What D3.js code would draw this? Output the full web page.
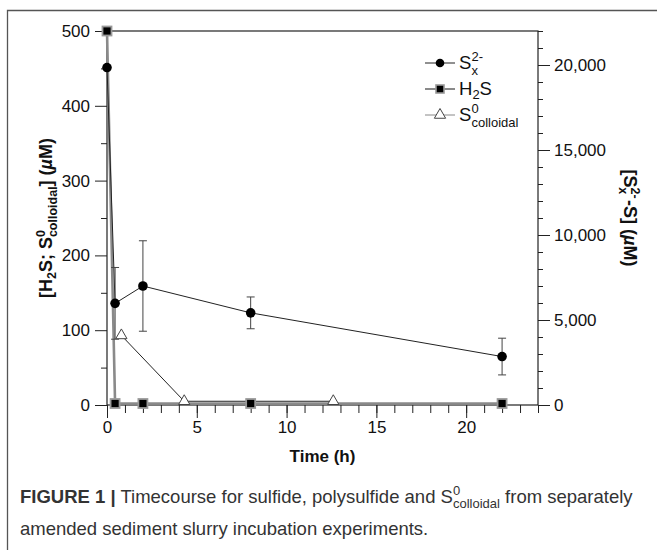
<!DOCTYPE html>
<html>
<head>
<meta charset="utf-8">
<script src="https://cdn.jsdelivr.net/npm/d3@7"></script>
<style>
  body { margin: 0; background: #fff; }
  svg { display: block; font-family: "Liberation Sans", Arial, sans-serif; }
  .tick text { font-size: 17px; fill: #111; }
</style>
</head>
<body>
<svg id="chart" width="657" height="550"></svg>
<script>
// time points (h)
const timeSx = [0, 0.45, 2, 8, 22];
const sx = [19850, 5980, 7000, 5420, 2850];      // [Sx2- -S] uM, right axis
const sxErr = [0, 2110, 2660, 935, 1080];
const timeH2S = [0, 0.45, 2, 8, 22];
const h2s = [500, 2, 2, 2, 2];                   // uM, left axis
const timeS0 = [0.8, 4.3, 12.6];
const s0 = [93, 5, 5];                           // uM, left axis

const xMajor = [0, 5, 10, 15, 20];
const yLeftMajor = [0, 100, 200, 300, 400, 500];
const yRightMajor = [0, 5000, 10000, 15000, 20000];

const svg = d3.select("#chart");
const margin = { top: 31, right: 119, bottom: 145, left: 107 };
const width = 657 - margin.left - margin.right;
const height = 550 - margin.top - margin.bottom;

// outer card border (top + left)
svg.append("path")
  .attr("d", "M7.5,550 V10.5 H657")
  .attr("fill", "none").attr("stroke", "#555").attr("stroke-width", 1.3);

const g = svg.append("g").attr("transform", `translate(${margin.left},${margin.top})`);

const x = d3.scaleLinear().domain([0, 24]).range([0, width]);
const yL = d3.scaleLinear().domain([0, 500]).range([height, 0]);
const yR = d3.scaleLinear().domain([0, 22000]).range([height, 0]);

// axes: minor then major
function styleAxis(sel) {
  sel.select(".domain").remove();
  sel.selectAll(".tick line").attr("stroke", "#222");
}
g.append("g").attr("transform", `translate(0,${height})`)
  .call(d3.axisBottom(x).tickValues(d3.range(0, 25)).tickSize(8).tickFormat(""))
  .call(styleAxis);
g.append("g").attr("transform", `translate(0,${height})`)
  .call(d3.axisBottom(x).tickValues(xMajor).tickSize(13).tickPadding(3))
  .call(styleAxis);

g.append("g")
  .call(d3.axisLeft(yL).tickValues(d3.range(50, 500, 100)).tickSize(6).tickFormat(""))
  .call(styleAxis);
g.append("g")
  .call(d3.axisLeft(yL).tickValues(yLeftMajor).tickSize(12).tickPadding(5))
  .call(styleAxis);

g.append("g").attr("transform", `translate(${width},0)`)
  .call(d3.axisRight(yR).tickValues(d3.range(0, 22001, 1000)).tickSize(5).tickFormat(""))
  .call(styleAxis);
g.append("g").attr("transform", `translate(${width},0)`)
  .call(d3.axisRight(yR).tickValues(yRightMajor).tickSize(12).tickPadding(4).tickFormat(d3.format(",")))
  .call(styleAxis);

// plot frame
g.append("rect").attr("width", width).attr("height", height)
  .attr("fill", "none").attr("stroke", "#222").attr("stroke-width", 1.2);

// lines
const lineL = d3.line().x(d => x(d[0])).y(d => yL(d[1]));
const lineR = d3.line().x(d => x(d[0])).y(d => yR(d[1]));
const h2sData = timeH2S.map((t, i) => [t, h2s[i]]);
const s0Data = timeS0.map((t, i) => [t, s0[i]]);
const sxData = timeSx.map((t, i) => [t, sx[i], sxErr[i]]);

g.append("path").datum(h2sData).attr("d", lineL)
  .attr("fill", "none").attr("stroke", "#8a8a8a").attr("stroke-width", 2.6);
g.append("path").datum(s0Data).attr("d", lineL)
  .attr("fill", "none").attr("stroke", "#222").attr("stroke-width", 1);
g.append("path").datum(sxData).attr("d", lineR)
  .attr("fill", "none").attr("stroke", "#222").attr("stroke-width", 1);

// error bars
const eb = g.selectAll(".err").data(sxData.filter(d => d[2] > 0)).enter().append("g")
  .attr("stroke", "#444").attr("stroke-width", 1);
eb.append("line")
  .attr("x1", d => x(d[0])).attr("x2", d => x(d[0]))
  .attr("y1", d => yR(d[1] - d[2])).attr("y2", d => yR(d[1] + d[2]));
eb.append("line")
  .attr("x1", d => x(d[0]) - 4).attr("x2", d => x(d[0]) + 4)
  .attr("y1", d => yR(d[1] + d[2])).attr("y2", d => yR(d[1] + d[2]));
eb.append("line")
  .attr("x1", d => x(d[0]) - 4).attr("x2", d => x(d[0]) + 4)
  .attr("y1", d => yR(d[1] - d[2])).attr("y2", d => yR(d[1] - d[2]));

// markers
const tri = d3.symbol().type(d3.symbolTriangle).size(55);
g.selectAll(".tri").data(s0Data).enter().append("path")
  .attr("d", tri)
  .attr("transform", d => `translate(${x(d[0])},${yL(d[1])})`)
  .attr("fill", "#fff").attr("stroke", "#444").attr("stroke-width", 1);

g.selectAll(".dot").data(sxData).enter().append("circle")
  .attr("cx", d => x(d[0])).attr("cy", d => yR(d[1])).attr("r", 4.8)
  .attr("fill", "#000");

g.selectAll(".sq").data(h2sData).enter().append("rect")
  .attr("x", d => x(d[0]) - 4.5).attr("y", d => yL(d[1]) - 4.5)
  .attr("width", 9).attr("height", 9)
  .attr("fill", "#000").attr("stroke", "#999").attr("stroke-width", 1.8);

// legend
const lg = svg.append("g").attr("transform", "translate(425,0)");
const rows = [63, 89, 115];
lg.append("line").attr("x1", 0).attr("x2", 30).attr("y1", rows[0]).attr("y2", rows[0]).attr("stroke", "#222");
lg.append("circle").attr("cx", 15).attr("cy", rows[0]).attr("r", 4.3).attr("fill", "#000");
lg.append("line").attr("x1", 0).attr("x2", 30).attr("y1", rows[1]).attr("y2", rows[1]).attr("stroke", "#8a8a8a").attr("stroke-width", 2);
lg.append("rect").attr("x", 11).attr("y", rows[1] - 4).attr("width", 8).attr("height", 8)
  .attr("fill", "#000").attr("stroke", "#999").attr("stroke-width", 1.6);
lg.append("line").attr("x1", 0).attr("x2", 30).attr("y1", rows[2]).attr("y2", rows[2]).attr("stroke", "#888");
lg.append("path").attr("d", tri).attr("transform", `translate(15,${rows[2]})`)
  .attr("fill", "#fff").attr("stroke", "#444");

const lt = lg.append("g").attr("font-size", 18.5).attr("fill", "#111");
lt.append("text").attr("x", 34).attr("y", rows[0] + 6).text("S");
lt.append("text").attr("x", 46.5).attr("y", rows[0] - 2).attr("font-size", 13).text("2-");
lt.append("text").attr("x", 46.5).attr("y", rows[0] + 12).attr("font-size", 13).text("x");
const t2 = lt.append("text").attr("x", 34).attr("y", rows[1] + 6);
t2.append("tspan").text("H");
t2.append("tspan").attr("font-size", 13).attr("dy", 4).text("2");
t2.append("tspan").attr("dy", -4).text("S");
lt.append("text").attr("x", 34).attr("y", rows[2] + 6).text("S");
lt.append("text").attr("x", 46.5).attr("y", rows[2] - 2).attr("font-size", 13).text("0");
lt.append("text").attr("x", 46.5).attr("y", rows[2] + 12).attr("font-size", 13).text("colloidal");

// axis titles
const cy = margin.top + height / 2;
const ttl = svg.append("text")
  .attr("transform", `translate(52,${cy}) rotate(-90)`)
  .attr("text-anchor", "middle").attr("font-weight", "bold").attr("font-size", 18).attr("fill", "#111");
ttl.append("tspan").text("[H");
ttl.append("tspan").attr("font-size", 12.5).attr("dy", 4).text("2");
ttl.append("tspan").attr("dy", -4).text("S; S");
ttl.append("tspan").attr("font-size", 12.5).attr("dy", -7).text("0");
ttl.append("tspan").attr("font-size", 12.5).attr("dx", -7).attr("dy", 12).text("colloidal");
ttl.append("tspan").attr("dy", -5).text("] (");
ttl.append("tspan").attr("font-style", "italic").text("\u00b5");
ttl.append("tspan").text("M)");

const ttr = svg.append("text")
  .attr("transform", `translate(624,${cy}) rotate(90)`)
  .attr("text-anchor", "middle").attr("font-weight", "bold").attr("font-size", 18).attr("fill", "#111");
ttr.append("tspan").text("[S");
ttr.append("tspan").attr("font-size", 12.5).attr("dy", -7).text("2-");
ttr.append("tspan").attr("font-size", 12.5).attr("dx", -11.5).attr("dy", 12).text("x");
ttr.append("tspan").attr("dx", 6).attr("dy", -5).text("-S] (");
ttr.append("tspan").attr("font-style", "italic").text("\u00b5");
ttr.append("tspan").text("M)");

svg.append("text").attr("x", margin.left + width / 2).attr("y", 462)
  .attr("text-anchor", "middle").attr("font-weight", "bold").attr("font-size", 17).attr("fill", "#111")
  .text("Time (h)");

// caption
const cap = svg.append("g").attr("font-size", 18.5).attr("fill", "#333");
const c1 = cap.append("text").attr("x", 20).attr("y", 503);
c1.append("tspan").attr("font-weight", "bold").text("FIGURE 1 |");
c1.append("tspan").text(" Timecourse for sulfide, polysulfide and S");
c1.append("tspan").attr("font-size", 13).attr("dy", -8).text("0");
c1.append("tspan").attr("font-size", 13).attr("dx", -7.2).attr("dy", 13).text("colloidal");
c1.append("tspan").attr("dy", -5).text(" from separately");
cap.append("text").attr("x", 20).attr("y", 535).text("amended sediment slurry incubation experiments.");
</script>
</body>
</html>
